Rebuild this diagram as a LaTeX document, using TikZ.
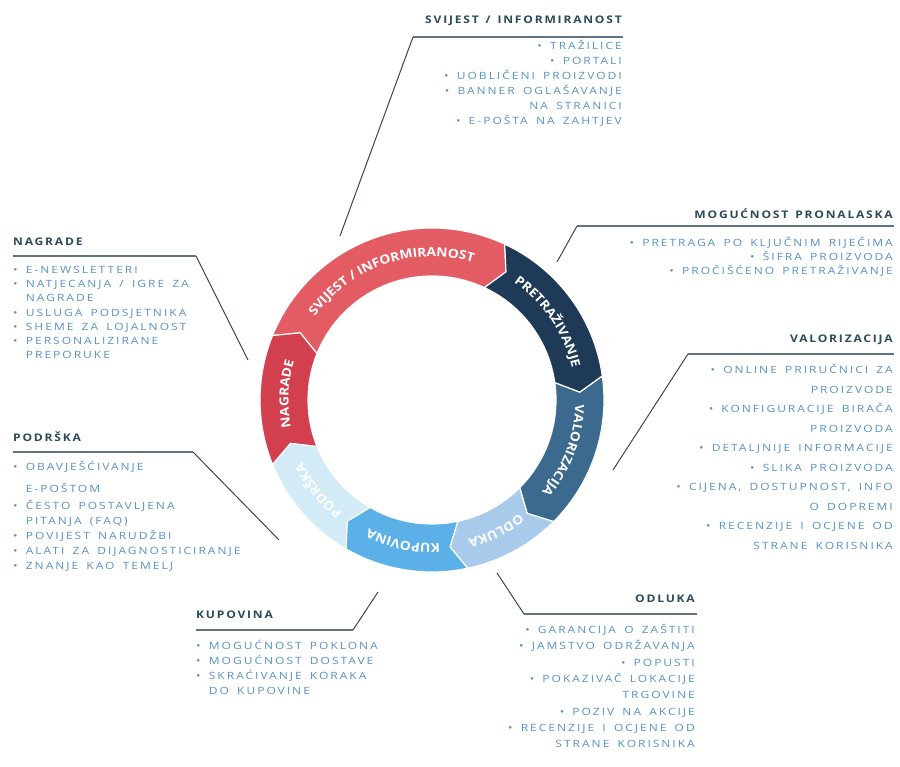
\documentclass[tikz,border=0pt]{standalone}
\usepackage{fontspec}
\setmainfont{Open Sans}
\newfontfamily\headfont[FakeStretch=1.15, LetterSpace=17, WordSpace=1.4]{Open Sans}
\newfontfamily\itemfont[FakeStretch=1.2, LetterSpace=20, WordSpace=1.6]{Open Sans}
\newfontfamily\ringfamily[FakeStretch=1.1]{Open Sans}
\usetikzlibrary{decorations.text}

\definecolor{svijestRed}{HTML}{E45C63}
\definecolor{nagradeRed}{HTML}{D2404F}
\definecolor{pretrazNavy}{HTML}{1E3A56}
\definecolor{valorBlue}{HTML}{3B6A8E}
\definecolor{odlukaBlue}{HTML}{A9CBEB}
\definecolor{kupovinaBlue}{HTML}{5BB0E8}
\definecolor{podrskaBlue}{HTML}{D3EBF6}
\definecolor{headGray}{HTML}{2C4A5A}
\definecolor{itemBlue}{HTML}{5690C6}
\definecolor{ruleGray}{HTML}{5F7382}
\definecolor{leadGray}{HTML}{3B4650}

\newcommand{\ringfont}{\ringfamily\bfseries\fontsize{12.5}{13}\selectfont}

\begin{document}
\begin{tikzpicture}[x=1pt,y=-1pt,
  heading/.style={inner sep=0pt, text=headGray, font=\headfont\bfseries\fontsize{10.5}{12}\selectfont},
  items/.style={inner sep=0pt, text=itemBlue, font=\itemfont\fontsize{10}{#1}\selectfont},
  items/.default=15,
  rulebar/.style={draw=ruleGray, line width=1.8pt},
  leader/.style={draw=leadGray, line width=1pt},
  segment/.style={draw=white, line width=1.2pt},
  ringtext/.style={decorate, decoration={text along path, text align=center, text color=white, text={|\ringfont|#1}}}]
\useasboundingbox (0,0) rectangle (900,767);

\begin{scope}[shift={(432,400)}]
%Shape: Ring segment (svijest)
\filldraw[segment, fill=svijestRed] (-158:172) arc[start angle=-158, end angle=-65, radius=172] -- (-60:148) -- (-65:124) arc[start angle=-65, end angle=-158, radius=124] -- (-153:148) -- cycle;
%Shape: Ring segment (pretrazivanje)
\filldraw[segment, fill=pretrazNavy] (-65:172) arc[start angle=-65, end angle=-8, radius=172] -- (-3:148) -- (-8:124) arc[start angle=-8, end angle=-65, radius=124] -- (-60:148) -- cycle;
%Shape: Ring segment (valorizacija)
\filldraw[segment, fill=valorBlue] (-8:172) arc[start angle=-8, end angle=45, radius=172] -- (50:148) -- (45:124) arc[start angle=45, end angle=-8, radius=124] -- (-3:148) -- cycle;
%Shape: Ring segment (odluka)
\filldraw[segment, fill=odlukaBlue] (45:172) arc[start angle=45, end angle=78, radius=172] -- (83:148) -- (78:124) arc[start angle=78, end angle=45, radius=124] -- (50:148) -- cycle;
%Shape: Ring segment (kupovina)
\filldraw[segment, fill=kupovinaBlue] (78:172) arc[start angle=78, end angle=120, radius=172] -- (125:148) -- (120:124) arc[start angle=120, end angle=78, radius=124] -- (83:148) -- cycle;
%Shape: Ring segment (podrska)
\filldraw[segment, fill=podrskaBlue] (120:172) arc[start angle=120, end angle=158, radius=172] -- (163:148) -- (158:124) arc[start angle=158, end angle=120, radius=124] -- (125:148) -- cycle;
%Shape: Ring segment (nagrade)
\filldraw[segment, fill=nagradeRed] (158:172) arc[start angle=158, end angle=202, radius=172] -- (207:148) -- (202:124) arc[start angle=202, end angle=158, radius=124] -- (163:148) -- cycle;

% Ring labels
\path[ringtext={SVIJEST / INFORMIRANOST}] (-153:143.5) arc[start angle=-153, end angle=-65, radius=143.5];
\path[ringtext={PRETRAŽIVANJE}] (-60:143.5) arc[start angle=-60, end angle=-8, radius=143.5];
\path[ringtext={VALORIZACIJA}] (-3:143.5) arc[start angle=-3, end angle=45, radius=143.5];
\path[ringtext={ODLUKA}] (50:143.5) arc[start angle=50, end angle=78, radius=143.5];
\path[ringtext={KUPOVINA}] (83:143.5) arc[start angle=83, end angle=120, radius=143.5];
\path[ringtext={PODRŠKA}] (125:143.5) arc[start angle=125, end angle=158, radius=143.5];
\path[ringtext={NAGRADE}] (163:143.5) arc[start angle=163, end angle=202, radius=143.5];
\end{scope}

%Straight Lines (svijest)
\coordinate (svijestRule) at (413,37);
\coordinate (svijestRuleEnd) at (623,37);
\coordinate (svijestTip) at (340,236);
\draw[rulebar] (svijestRule) -- (svijestRuleEnd);
\draw[leader] (svijestRule) -- (svijestTip);
%Straight Lines (mogucnost)
\coordinate (mogucnostRule) at (577,226);
\coordinate (mogucnostRuleEnd) at (894,226);
\coordinate (mogucnostTip) at (557,262);
\draw[rulebar] (mogucnostRule) -- (mogucnostRuleEnd);
\draw[leader] (mogucnostRule) -- (mogucnostTip);
%Straight Lines (valorizacija)
\coordinate (valorRule) at (688,354);
\coordinate (valorRuleEnd) at (894,354);
\coordinate (valorTip) at (613,470);
\draw[rulebar] (valorRule) -- (valorRuleEnd);
\draw[leader] (valorRule) -- (valorTip);
%Straight Lines (odluka)
\coordinate (odlukaRule) at (524,614);
\coordinate (odlukaRuleEnd) at (697,614);
\coordinate (odlukaTip) at (497,573);
\draw[rulebar] (odlukaRule) -- (odlukaRuleEnd);
\draw[leader] (odlukaRule) -- (odlukaTip);
%Straight Lines (kupovina)
\coordinate (kupovinaRule) at (196,630);
\coordinate (kupovinaRuleEnd) at (353,630);
\coordinate (kupovinaTip) at (378,592);
\draw[rulebar] (kupovinaRule) -- (kupovinaRuleEnd);
\draw[leader] (kupovinaRuleEnd) -- (kupovinaTip);
%Straight Lines (nagrade)
\coordinate (nagradeRule) at (13,256);
\coordinate (nagradeRuleEnd) at (196,256);
\coordinate (nagradeTip) at (248,360);
\draw[rulebar] (nagradeRule) -- (nagradeRuleEnd);
\draw[leader] (nagradeRuleEnd) -- (nagradeTip);
%Straight Lines (podrska)
\coordinate (podrskaRule) at (13,452);
\coordinate (podrskaRuleEnd) at (193,452);
\coordinate (podrskaTip) at (279,540);
\draw[rulebar] (podrskaRule) -- (podrskaRuleEnd);
\draw[leader] (podrskaRuleEnd) -- (podrskaTip);

% Text Node
\node[heading, anchor=base east] (svijestHead) at (622,24) {SVIJEST / INFORMIRANOST};
% Text Node
\node[items, anchor=north east, align=right] (svijestItems) at (622,40) {• TRAŽILICE\\• PORTALI\\• UOBLIČENI PROIZVODI\\• BANNER OGLAŠAVANJE\\NA STRANICI\\• E-POŠTA NA ZAHTJEV};
% Text Node
\node[heading, anchor=base east] (mogucnostHead) at (893,219) {MOGUĆNOST PRONALASKA};
% Text Node
\node[items=14, anchor=north east, align=right] (mogucnostItems) at (893,237) {• PRETRAGA PO KLJUČNIM RIJEČIMA\\• ŠIFRA PROIZVODA\\• PROČIŠĆENO PRETRAŽIVANJE};
% Text Node
\node[heading, anchor=base east] (valorHead) at (893,343) {VALORIZACIJA};
% Text Node
\node[items=19.5, anchor=north east, align=right] (valorItems) at (893,364) {• ONLINE PRIRUČNICI ZA\\PROIZVODE\\• KONFIGURACIJE BIRAČA\\PROIZVODA\\• DETALJNIJE INFORMACIJE\\• SLIKA PROIZVODA\\• CIJENA, DOSTUPNOST, INFO\\O DOPREMI\\• RECENZIJE I OCJENE OD\\STRANE KORISNIKA};
% Text Node
\node[heading, anchor=base east] (odlukaHead) at (695,602) {ODLUKA};
% Text Node
\node[items=16.3, anchor=north east, align=right] (odlukaItems) at (695,624) {• GARANCIJA O ZAŠTITI\\• JAMSTVO ODRŽAVANJA\\• POPUSTI\\• POKAZIVAČ LOKACIJE\\TRGOVINE\\• POZIV NA AKCIJE\\• RECENZIJE I OCJENE OD\\STRANE KORISNIKA};
% Text Node
\node[heading, anchor=base west] (kupovinaHead) at (196,618) {KUPOVINA};
% Text Node
\node[items, anchor=north west, align=left] (kupovinaItems) at (196,640) {• MOGUĆNOST POKLONA\\• MOGUĆNOST DOSTAVE\\• SKRAĆIVANJE KORAKA\\\phantom{•\ }DO KUPOVINE};
% Text Node
\node[heading, anchor=base west] (nagradeHead) at (13,246) {NAGRADE};
% Text Node
\node[items=14.2, anchor=north west, align=left] (nagradeItems) at (13,266) {• E-NEWSLETTERI\\• NATJECANJA / IGRE ZA\\\phantom{•\ }NAGRADE\\• USLUGA PODSJETNIKA\\• SHEME ZA LOJALNOST\\• PERSONALIZIRANE\\\phantom{•\ }PREPORUKE};
% Text Node
\node[heading, anchor=base west] (podrskaHead) at (13,441) {PODRŠKA};
% Text Node
\node[items, anchor=north west, align=left] (podrskaItems) at (13,461) {• OBAVJEŠĆIVANJE\\[7pt]\phantom{•\ }E-POŠTOM\\[2pt]• ČESTO POSTAVLJENA\\\phantom{•\ }PITANJA (FAQ)\\• POVIJEST NARUDŽBI\\• ALATI ZA DIJAGNOSTICIRANJE\\• ZNANJE KAO TEMELJ};

\end{tikzpicture}
\end{document}
